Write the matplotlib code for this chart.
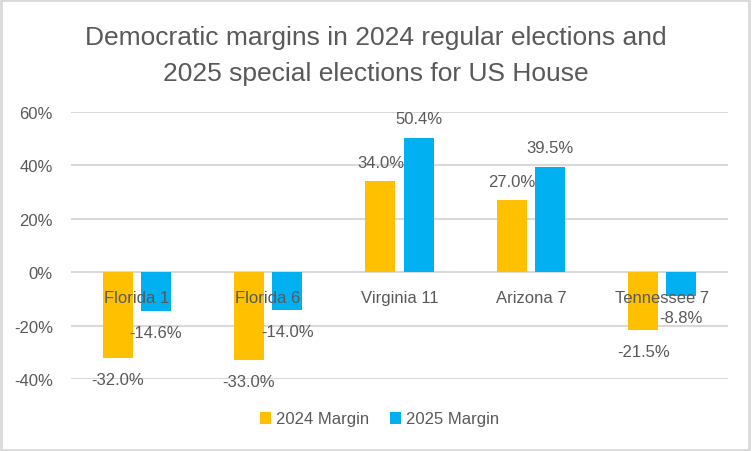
import matplotlib
matplotlib.use("Agg")
import matplotlib.pyplot as plt
import numpy as np
from matplotlib.patches import Rectangle
from matplotlib.ticker import FuncFormatter

categories = ["Florida 1", "Florida 6", "Virginia 11", "Arizona 7", "Tennessee 7"]
margin_2024 = [-32.0, -33.0, 34.0, 27.0, -21.5]
margin_2025 = [-14.6, -14.0, 50.4, 39.5, -8.8]
series_names = ["2024 Margin", "2025 Margin"]
yticks = [-40, -20, 0, 20, 40, 60]

TXT = "#595959"
C24 = "#FFC000"
C25 = "#00B0F0"
GRID = "#D9D9D9"
FONT = ["Liberation Sans", "DejaVu Sans"]
plt.rcParams["font.family"] = FONT

fig = plt.figure(figsize=(7.52, 4.52), dpi=100)
ax = fig.add_axes([71/752, 1-380/452, (728-71)/752, (380-113)/452])

x = np.arange(len(categories))
w = 0.228
off = 0.145
b1 = ax.bar(x - off, margin_2024, w, color=C24, label=series_names[0], zorder=2)
b2 = ax.bar(x + off, margin_2025, w, color=C25, label=series_names[1], zorder=2)

ax.set_xlim(-0.5, len(categories) - 0.5)
ax.set_ylim(-40, 60)
ax.set_yticks(yticks)
ax.yaxis.set_major_formatter(FuncFormatter(lambda v, p: f"{v:.0f}%"))
ax.grid(axis="y", color=GRID, linewidth=1.5, zorder=0)
ax.set_axisbelow(True)
for s in ax.spines.values():
    s.set_visible(False)
ax.tick_params(axis="y", length=0, pad=13, labelsize=12, labelcolor=TXT)
ax.set_xticks([])

for i, c in enumerate(categories):
    ax.annotate(c, (i, 0), xytext=(0, -18), textcoords="offset points",
                ha="center", va="center", fontsize=12, color=TXT, zorder=5)

for bars, vals in ((b1, margin_2024), (b2, margin_2025)):
    for rect, v in zip(bars, vals):
        cx = rect.get_x() + rect.get_width() / 2
        dy = 13.5 if v >= 0 else -15.5
        ax.annotate(f"{v:.1f}%", (cx, v), xytext=(0, dy), textcoords="offset points",
                    ha="center", va="center", fontsize=12, color=TXT, zorder=5)

fig.suptitle("Democratic margins in 2024 regular elections and\n2025 special elections for US House",
             y=1-26/452, va="top", fontsize=19, color=TXT,
             family=["Liberation Sans Narrow", "Liberation Sans", "DejaVu Sans"], linespacing=1.62)

leg = fig.legend(loc="center", bbox_to_anchor=(379.5/752, 1-420/452), ncol=2, frameon=False,
                 fontsize=12, handlelength=0.7, handleheight=0.7, handletextpad=0.3,
                 columnspacing=1.2, labelcolor=TXT)

fig.patches.append(Rectangle((0.0015, 0.002), 0.995, 0.995, transform=fig.transFigure,
                             fill=False, edgecolor=GRID, linewidth=2))

fig.savefig("out.png", dpi=100)
